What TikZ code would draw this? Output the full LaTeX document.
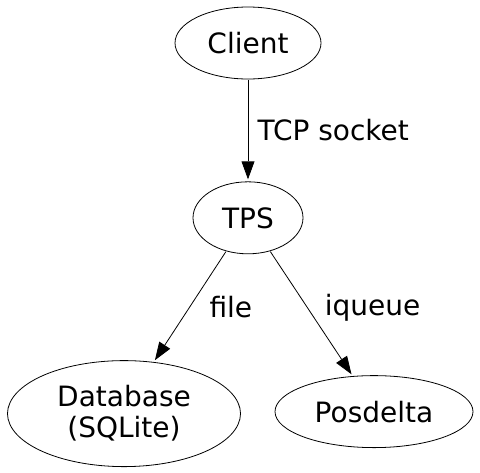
\documentclass[tikz,border=0pt]{standalone}
\usepackage{fontspec}
\setmainfont{DejaVu Sans}
\usetikzlibrary{arrows.meta, positioning, shapes.geometric}

\begin{document}
\begin{tikzpicture}
	\tikzset {->, >={Triangle[length=10pt, width=7pt]}, line width=0.9pt, every node/.style={font=\fontsize{14}{15.5}\selectfont}, comp/.style={ellipse, draw, inner sep=0pt, align=center} }

	\useasboundingbox (-124pt,21.5pt) rectangle (116pt,-214.5pt);

	\node[comp, minimum width=73pt, minimum height=36pt] 	(C) 						{Client};
	\node[comp, minimum width=55pt, minimum height=36pt] 	(T) [below=50.5pt of C] 			{TPS};
	\node[comp, minimum width=116.5pt, minimum height=53pt]	(D) [below=52.5pt of T, xshift=-62pt] 	{Database\\(SQLite)};
	\node[comp, minimum width=99pt, minimum height=36pt] 	(P) [below=60pt of T, xshift=63pt] 	{Posdelta};

	\draw
		(C) edge node[right=1pt] {TCP socket} (T)
		(T) edge node[pos=0.5, right=6pt] {file} (D.60)
		(T) edge node[pos=0.45, right=5pt] {iqueue} (P.121);

\end{tikzpicture}
\end{document}
